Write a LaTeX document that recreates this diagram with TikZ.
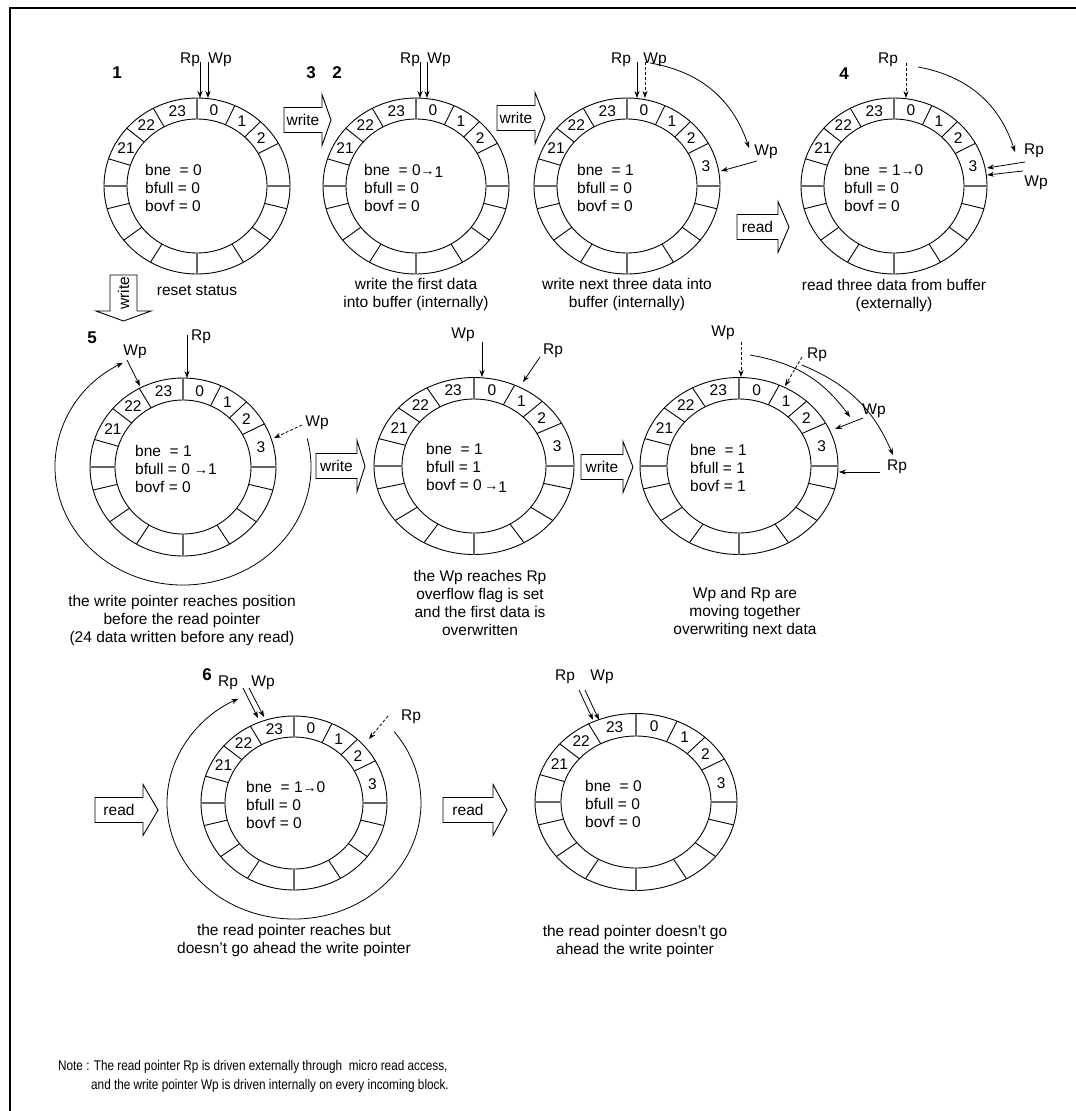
\documentclass[tikz,border=0pt]{standalone}
\usepackage{fontspec}
\setmainfont{Liberation Sans}
\newfontfamily\notefont[FakeStretch=0.84]{Liberation Sans}
\usetikzlibrary{calc,arrows.meta}

\tikzstyle{ring}=[draw=black, line width=0.9pt]
\tikzstyle{axis line}=[draw=black!60, line width=1.1pt]
\tikzstyle{cell}=[inner sep=0pt]
\tikzstyle{flags}=[align=left, anchor=west, inner sep=0pt]
\tikzstyle{ptr}=[-{Stealth[length=7pt,width=5pt]}, line width=0.8pt]
\tikzstyle{dashed ptr}=[ptr, dash pattern=on 3pt off 2pt]
\tikzstyle{caption}=[align=center, inner sep=0pt]
\tikzstyle{stepnum}=[font=\fontsize{17}{17}\selectfont\bfseries, inner sep=0pt]
\tikzstyle{block}=[draw=black, line width=0.9pt, fill=white]

\newcommand{\tto}{{\fontsize{14}{14}\selectfont →}}

% ring of 16 cells: #1 centre, #2/#3 outer radii, #4/#5 inner radii, #6 text of cell 3
\newcommand{\bufring}[6]{%
  \pgfmathsetmacro{\mx}{(#2+#4)/2}%
  \pgfmathsetmacro{\my}{(#3+#5)/2}%
  \draw[ring] (#1) ellipse [x radius=#2, y radius=#3];
  \draw[ring] (#1) ellipse [x radius=#4, y radius=#5];
  \foreach \a in {66,47,29,-15,-38,-60,-120,-142,-165,162,139,118}
    \draw[ring] ($(#1)+(\a:#4 and #5)$) -- ($(#1)+(\a:#2 and #3)$);
  \foreach \a in {90,0,-90,180}
    \draw[axis line] ($(#1)+(\a:#4 and #5)$) -- ($(#1)+(\a:#2 and #3)$);
  \foreach \a/\lbl in {78/0,56.5/1,38/2,104/23,128.5/22,150.5/21}
    \node[cell] (#1-\lbl) at ($(#1)+({\mx*cos(\a)},{\my*sin(\a)})$) {\lbl};
  \node[cell] (#1-3) at ($(#1)+({\mx*cos(14.5)},{\my*sin(14.5)})$) {#6};
}

% hollow block arrow: #1 name, #2 left x, #3 mid y, #4 body length, #5 head length, #6 text
\newcommand{\blockarrow}[6]{%
  \draw[block] (#2,#3+12.5) -- ++(#4,0) -- ++(0,13) -- ++(#5,-25.5) -- ++(-#5,-25.5)
    -- ++(0,13) -- ++(-#4,0) -- cycle;
  \node (#1) at (#2+#4/2,#3) {#6};
}

\begin{document}
\begin{tikzpicture}[x=1pt, y=1pt, every node/.style={font=\fontsize{15.5}{18}\selectfont, inner sep=0pt}]
  \useasboundingbox (0,0) rectangle (1076,-1111);
  \draw[line width=2.5pt] (10,-1111) -- (10,-8) -- (1076,-8);

  % ring centres
  \coordinate (r1) at (197,-186);
  \coordinate (r2) at (416,-186);
  \coordinate (r3) at (627,-186);
  \coordinate (r4) at (894,-186);
  \coordinate (r5) at (183,-467);
  \coordinate (r6) at (474,-466);
  \coordinate (r7) at (739,-466);
  \coordinate (r8) at (294,-803);
  \coordinate (r9) at (636,-802);

  \bufring{r1}{93}{88}{70}{67}{}
  \bufring{r2}{93}{88}{70}{67}{}
  \bufring{r3}{93}{88}{70}{67}{3}
  \bufring{r4}{93}{88}{70}{67}{3}
  \bufring{r5}{93}{89}{68}{67}{3}
  \bufring{r6}{100}{88.5}{72}{67}{3}
  \bufring{r7}{99}{88.5}{72}{67}{3}
  \bufring{r8}{93}{87}{69}{66}{3}
  \bufring{r9}{101}{88.5}{75}{66}{3}

  % status flags
  \node[flags] (f1) at ($(r1)+(-52,-2)$) {bne~ = 0\\bfull = 0\\bovf = 0};
  \node[flags] (f2) at ($(r2)+(-52,-2)$) {bne~ = 0\tto\raisebox{-2pt}{1}\\bfull = 0\\bovf = 0};
  \node[flags] (f3) at ($(r3)+(-50,-2)$) {bne~ = 1\\bfull = 0\\bovf = 0};
  \node[flags] (f4) at ($(r4)+(-50,-2)$) {bne~ = 1\tto 0\\bfull = 0\\bovf = 0};
  \node[flags] (f5) at ($(r5)+(-48,-2)$) {bne~ = 1\\bfull = 0 \tto 1\\bovf = 0};
  \node[flags] (f6) at ($(r6)+(-48,-2)$) {bne~ = 1\\bfull = 1\\bovf = 0\,\tto\raisebox{-2pt}{1}};
  \node[flags] (f7) at ($(r7)+(-49,-2)$) {bne~ = 1\\bfull = 1\\bovf = 1};
  \node[flags] (f8) at ($(r8)+(-48,-2)$) {bne~ = 1\tto 0\\bfull = 0\\bovf = 0};
  \node[flags] (f9) at ($(r9)+(-51,-2)$) {bne~ = 0\\bfull = 0\\bovf = 0};

  % step numbers
  \node[stepnum] (s1) at (117,-73) {1};
  \node[stepnum] (s3) at (311,-73) {3};
  \node[stepnum] (s2) at (337,-73) {2};
  \node[stepnum] (s4) at (844,-74) {4};
  \node[stepnum] (s5) at (92,-338) {5};
  \node[stepnum] (s6) at (207,-675) {6};

  % pointers, step 1
  \node (rp1) at (190,-60) {Rp};
  \node (wp1) at (220,-60) {Wp};
  \coordinate (a1) at (200,-62); \coordinate (b1) at (200,-98);
  \coordinate (a2) at (208,-62); \coordinate (b2) at (208,-98);
  \draw[ptr] (a1) -- (b1);
  \draw[ptr] (a2) -- (b2);

  % pointers, step 2
  \node (rp2) at (410,-60) {Rp};
  \node (wp2) at (439,-60) {Wp};
  \coordinate (a3) at (420,-62); \coordinate (b3) at (420,-98);
  \coordinate (a4) at (427,-62); \coordinate (b4) at (427,-98);
  \draw[ptr] (a3) -- (b3);
  \draw[ptr] (a4) -- (b4);

  % pointers, step 3
  \node (rp3) at (621,-60) {Rp};
  \node (wp3) at (655,-60) {Wp};
  \node (wp3n) at (766,-152) {Wp};
  \coordinate (a5) at (637,-62); \coordinate (b5) at (637,-98);
  \coordinate (a6) at (645,-62); \coordinate (b6) at (645,-98);
  \coordinate (a7) at (650,-63); \coordinate (b7) at (749,-148);
  \coordinate (a8) at (757,-161); \coordinate (b8) at (721,-171);
  \draw[ptr] (a5) -- (b5);
  \draw[dashed ptr] (a6) -- (b6);
  \draw[ptr] (a7) to[bend left=31] (b7);
  \draw[ptr] (a8) -- (b8);

  % pointers, step 4
  \node (rp4) at (888,-60) {Rp};
  \node (rp4n) at (1034,-151) {Rp};
  \node (wp4n) at (1036,-183) {Wp};
  \coordinate (a9) at (906,-63); \coordinate (b9) at (906,-98);
  \coordinate (a10) at (918,-67); \coordinate (b10) at (1015,-152);
  \coordinate (a11) at (1025,-162); \coordinate (b11) at (987,-168);
  \coordinate (a12) at (1023,-171); \coordinate (b12) at (987,-175);
  \draw[dashed ptr] (a9) -- (b9);
  \draw[ptr] (a10) to[bend left=31] (b10);
  \draw[ptr] (a11) -- (b11);
  \draw[ptr] (a12) -- (b12);

  % pointers, step 5
  \node (rp5) at (201,-337) {Rp};
  \node (wp5) at (135,-352) {Wp};
  \node (wp5n) at (317,-423) {Wp};
  \coordinate (a13) at (187,-335); \coordinate (b13) at (187,-378);
  \coordinate (a14) at (127,-360); \coordinate (b14) at (140,-386);
  \coordinate (a15) at (302,-425); \coordinate (b15) at (274,-438);
  \draw[ptr] (a13) -- (b13);
  \draw[ptr] (a14) -- (b14);
  \draw[dashed ptr] (a15) -- (b15);
  \draw[ptr] ($(r5)+(14:128 and 118)$) arc[start angle=14, end angle=-242, x radius=128, y radius=118];

  % pointers, overflow
  \node (wp6) at (463,-335) {Wp};
  \node (rp6) at (553,-351) {Rp};
  \coordinate (a16) at (482,-342); \coordinate (b16) at (482,-377);
  \coordinate (a17) at (540,-357); \coordinate (b17) at (523,-382);
  \draw[ptr] (a16) -- (b16);
  \draw[ptr] (a17) -- (b17);

  % pointers, moving together
  \node (wp7) at (723,-333) {Wp};
  \node (rp7) at (817,-355) {Rp};
  \node (wp7n) at (874,-411) {Wp};
  \node (rp7n) at (897,-467) {Rp};
  \coordinate (a18) at (741,-342); \coordinate (b18) at (741,-377);
  \coordinate (a19) at (802,-357); \coordinate (b19) at (785,-386);
  \coordinate (a20) at (750,-355); \coordinate (b20) at (850,-417);
  \coordinate (a21) at (802,-365); \coordinate (b21) at (893,-455);
  \coordinate (a22) at (863,-418); \coordinate (b22) at (835,-429);
  \coordinate (a23) at (880,-472); \coordinate (b23) at (839,-472);
  \draw[dashed ptr] (a18) -- (b18);
  \draw[dashed ptr] (a19) -- (b19);
  \draw[ptr] (a20) to[bend left=22] (b20);
  \draw[ptr] (a21) to[bend left=22] (b21);
  \draw[ptr] (a22) -- (b22);
  \draw[ptr] (a23) -- (b23);

  % pointers, step 6
  \node (rp8) at (228,-683) {Rp};
  \node (wp8) at (263,-683) {Wp};
  \node (rp8n) at (411,-717) {Rp};
  \coordinate (a24) at (243,-688); \coordinate (b24) at (258,-718);
  \coordinate (a25) at (249,-688); \coordinate (b25) at (264,-717);
  \coordinate (a26) at (388,-716); \coordinate (b26) at (369,-739);
  \draw[ptr] (a24) -- (b24);
  \draw[ptr] (a25) -- (b25);
  \draw[dashed ptr] (a26) -- (b26);
  \draw[ptr] ($(r8)+(38:127 and 116)$) arc[start angle=38, end angle=-244, x radius=127, y radius=116];

  % pointers, last
  \node (rp9) at (565,-677) {Rp};
  \node (wp9) at (602,-677) {Wp};
  \coordinate (a27) at (579,-690); \coordinate (b27) at (593,-720);
  \coordinate (a28) at (585,-690); \coordinate (b28) at (599,-720);
  \draw[ptr] (a27) -- (b27);
  \draw[ptr] (a28) -- (b28);

  % block arrows
  \blockarrow{w1}{284}{-120}{38}{9}{write}
  \blockarrow{w2}{497}{-118}{38}{10}{write}
  \blockarrow{rd1}{737}{-227}{41}{11}{read}
  \blockarrow{w4}{316}{-466}{41}{8}{write}
  \blockarrow{w5}{581}{-467}{42}{10}{write}
  \blockarrow{rd2}{95}{-810}{48}{15}{read}
  \blockarrow{rd3}{443}{-810}{50}{14}{read}
  \draw[block] (110,-275) -- (137,-275) -- (137,-311) -- (151,-311) -- (123.5,-321)
    -- (96,-311) -- (110,-311) -- cycle;
  \node[rotate=90] (w3) at (123.5,-293) {write};

  % captions
  \node[caption] (c1) at (197,-291) {reset status};
  \node[caption] (c2) at (416,-294) {write the first data\\into buffer (internally)};
  \node[caption] (c3) at (627,-294) {write next three data into\\buffer (internally)};
  \node[caption] (c4) at (894,-295) {read three data from buffer\\(externally)};
  \node[caption] (c5) at (182,-620) {the write pointer reaches position\\before the read pointer\\(24 data written before any read)};
  \node[caption] (c6) at (480,-603) {the Wp reaches Rp\\overflow flag is set\\and the first data is\\overwritten};
  \node[caption] (c7) at (745,-612) {Wp and Rp are\\moving together\\overwriting next data};
  \node[caption] (c8) at (294,-940) {the read pointer reaches but\\doesn't go ahead the write pointer};
  \node[caption] (c9) at (635,-941) {the read pointer doesn't go\\ahead the write pointer};

  % note
  \node[anchor=west, font=\notefont\fontsize{14}{16}\selectfont] (n1) at (58,-1067)
    {Note : The read pointer Rp is driven externally through \ micro read access,};
  \node[anchor=west, font=\notefont\fontsize{14}{16}\selectfont] (n2) at (91,-1086)
    {and the write pointer Wp is driven internally on every incoming block.};
\end{tikzpicture}
\end{document}
